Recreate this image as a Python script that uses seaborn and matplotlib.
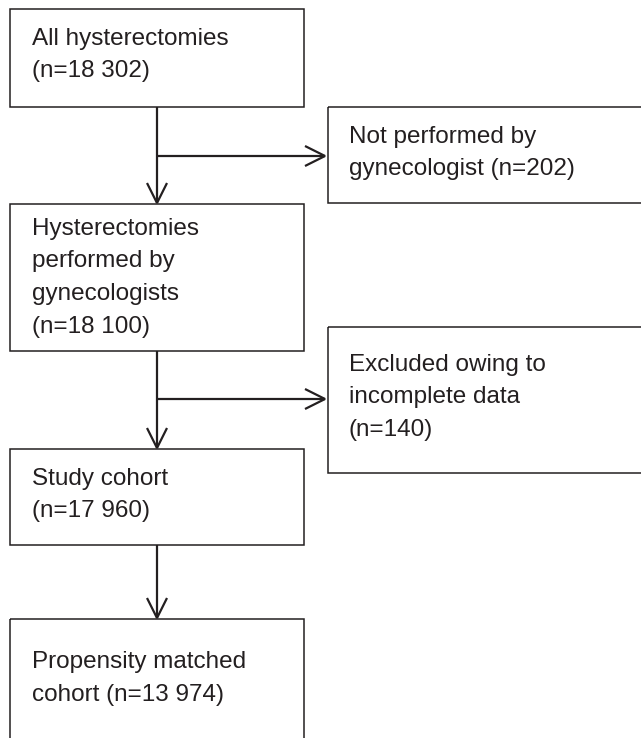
import matplotlib
matplotlib.use("Agg")
import matplotlib.pyplot as plt
from matplotlib.patches import Rectangle
import seaborn as sns

# ---- content ----
main_labels = [
    ["All hysterectomies", "(n=18 302)"],
    ["Hysterectomies", "performed by", "gynecologists", "(n=18 100)"],
    ["Study cohort", "(n=17 960)"],
    ["Propensity matched", "cohort (n=13 974)"],
]
side_labels = [
    ["Not performed by", "gynecologist (n=202)"],
    ["Excluded owing to", "incomplete data", "(n=140)"],
]

# ---- layout (pixel units, y downwards) ----
W, H = 641, 738
main_x0, main_x1 = 10, 304
main_boxes = [(9, 107), (204, 351), (449, 545), (619, 760)]
main_first_baseline = [45, 235, 485, 668]
side_x0, side_x1 = 328, 700
side_boxes = [(107, 203), (327, 473)]
side_first_baseline = [143, 371]
branch_y = [156, 399]
trunk_x = 157
line_step = 32.5
text_dx = 22
ink = "#231f20"
fs = 17.5

sns.set_theme(style="white")
plt.rcParams["font.family"] = ["Liberation Sans", "DejaVu Sans"]

fig = plt.figure(figsize=(W / 100, H / 100), dpi=100)
ax = fig.add_axes([0, 0, 1, 1])
ax.set_xlim(0, W)
ax.set_ylim(H, 0)
ax.axis("off")

box_lw = 1.1
line_lw = 1.6


def draw_box(x0, x1, y0, y1):
    ax.add_patch(Rectangle((x0, y0), x1 - x0, y1 - y0, fill=False,
                           edgecolor=ink, linewidth=box_lw, clip_on=True))


def chevron(tx, ty, direction, L=20, hw=10):
    if direction == "down":
        xs = [tx - hw, tx, tx + hw]
        ys = [ty - L, ty, ty - L]
    else:
        xs = [tx - L, tx, tx - L]
        ys = [ty - hw, ty, ty + hw]
    ax.plot(xs, ys, color=ink, lw=line_lw, solid_joinstyle="miter",
            solid_capstyle="butt")


for (y0, y1), lines, b0 in zip(main_boxes, main_labels, main_first_baseline):
    draw_box(main_x0, main_x1, y0, y1)
    for i, t in enumerate(lines):
        ax.text(main_x0 + text_dx, b0 + i * line_step, t, fontsize=fs,
                color=ink, va="baseline", ha="left")

for (y0, y1), lines, b0 in zip(side_boxes, side_labels, side_first_baseline):
    draw_box(side_x0, side_x1, y0, y1)
    for i, t in enumerate(lines):
        ax.text(side_x0 + 21, b0 + i * line_step, t, fontsize=fs,
                color=ink, va="baseline", ha="left")

# vertical connectors between main boxes
for k in range(len(main_boxes) - 1):
    top = main_boxes[k][1]
    tip = main_boxes[k + 1][0] - 1
    ax.plot([trunk_x, trunk_x], [top, tip], color=ink, lw=line_lw,
            solid_capstyle="butt")
    chevron(trunk_x, tip, "down")

# side branches
for by in branch_y:
    tip = side_x0 - 3
    ax.plot([trunk_x, tip], [by, by], color=ink, lw=line_lw,
            solid_capstyle="butt")
    chevron(tip, by, "right")

fig.savefig("out.png", dpi=100, facecolor="white")
